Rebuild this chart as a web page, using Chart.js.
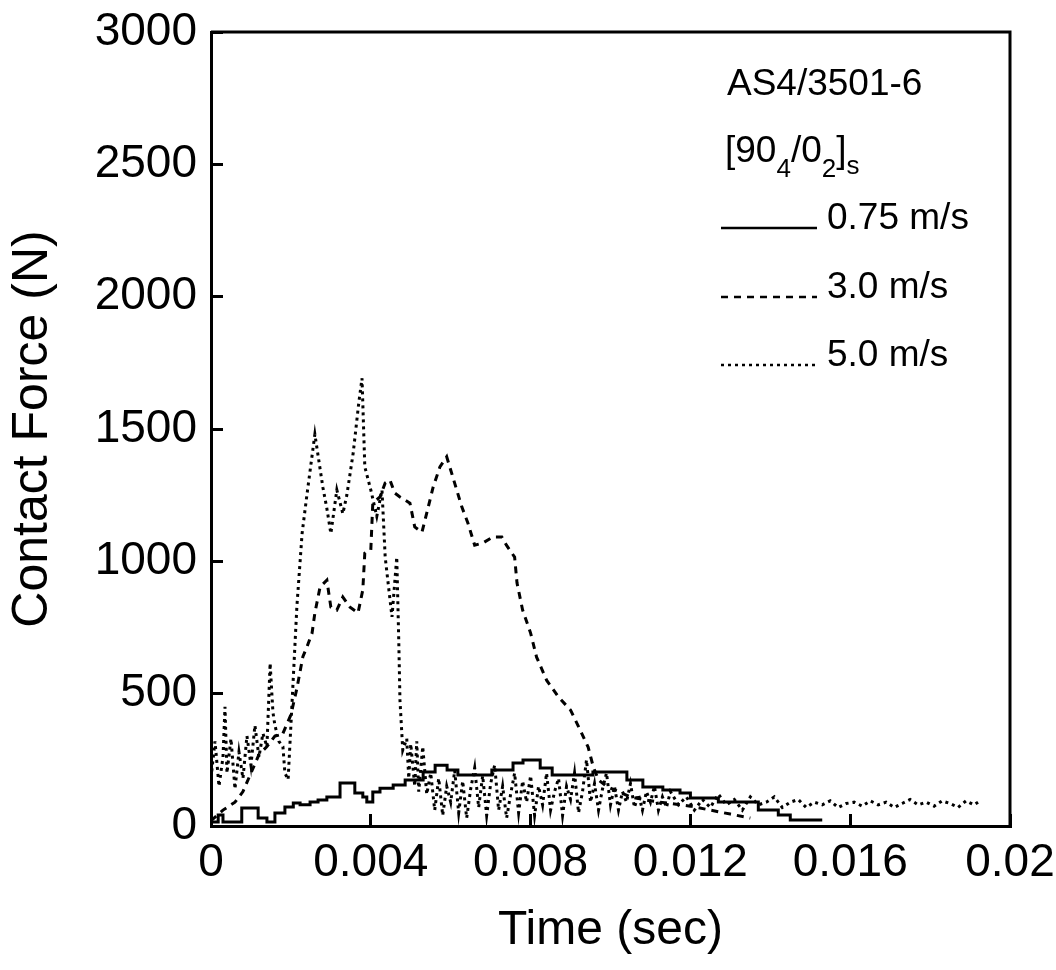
<!DOCTYPE html>
<html>
<head>
<meta charset="utf-8">
<script src="https://cdn.jsdelivr.net/npm/chart.js@4.4.1/dist/chart.umd.min.js"></script>
<style>
  html, body { margin: 0; padding: 0; background: #fff; }
  canvas { display: block; }
</style>
</head>
<body>
<canvas id="chart" width="1056" height="970"></canvas>
<script>
// 0.75 m/s (stepped trace)
const t075 = [0, 0.00018, 0.0003, 0.00077, 0.00118, 0.0014, 0.0016, 0.00185, 0.00206, 0.00223,
  0.00248, 0.00268, 0.0029, 0.00323, 0.0036, 0.0038, 0.0039, 0.00405, 0.00423, 0.00456,
  0.00486, 0.00531, 0.00561, 0.00591, 0.00618, 0.00703, 0.00756, 0.00781, 0.00824, 0.00854,
  0.00956, 0.01041, 0.01081, 0.01131, 0.01174, 0.012, 0.0127, 0.0137, 0.0142, 0.0145, 0.0153];
const f075 = [15, 42, 15, 68, 30, 15, 49, 72, 87, 80,
  91, 98, 110, 162, 125, 110, 91, 128, 143, 155,
  174, 204, 230, 212, 193, 212, 238, 249, 219, 193,
  204, 174, 147, 136, 125, 106, 91, 60, 42, 23, 23];

// 3.0 m/s
const t30 = [0, 0.0003, 0.0006, 0.0008, 0.001, 0.0012, 0.0014, 0.0016, 0.0018, 0.002,
  0.00215, 0.0023, 0.0024, 0.00253, 0.0026, 0.00273, 0.0029, 0.003, 0.00315, 0.0033,
  0.00348, 0.00368, 0.0038, 0.00385, 0.004, 0.00405, 0.00423, 0.00436, 0.00448, 0.0046,
  0.00473, 0.00498, 0.0051, 0.00528, 0.0054, 0.00556, 0.00573, 0.0059, 0.006, 0.00615,
  0.00628, 0.00643, 0.0066, 0.0068, 0.00706, 0.00728, 0.0074, 0.0076, 0.00766, 0.0078,
  0.008, 0.00815, 0.0084, 0.0087, 0.009, 0.00924, 0.00944, 0.00957, 0.0097, 0.0099,
  0.0102, 0.0105, 0.011, 0.0115, 0.012, 0.0125, 0.013, 0.0135];
const f30 = [20, 60, 90, 130, 200, 270, 300, 340, 350, 420,
  520, 640, 676, 729, 805, 903, 929, 827, 816, 865,
  827, 805, 892, 1031, 1043, 1220, 1243, 1296, 1307, 1258,
  1243, 1220, 1130, 1110, 1182, 1280, 1357, 1395, 1345, 1270,
  1205, 1145, 1061, 1069, 1092, 1092, 1060, 1016, 918, 816,
  729, 638, 551, 487, 438, 363, 298, 223, 174, 150,
  130, 110, 95, 85, 75, 60, 45, 30];

// 5.0 m/s
const t50 = [0, 0.0001, 0.0002, 0.0003, 0.00035, 0.0004, 0.0005, 0.0006, 0.0007, 0.0008,
  0.0009, 0.001, 0.0011, 0.0012, 0.0013, 0.0014, 0.00148, 0.00155, 0.0016, 0.0017,
  0.0018, 0.00185, 0.00193, 0.002, 0.00215, 0.00228, 0.0024, 0.0026, 0.0027, 0.0028,
  0.0029, 0.003, 0.00315, 0.0033, 0.0034, 0.00356, 0.0037, 0.00378, 0.00385, 0.004,
  0.00415, 0.00428, 0.00436, 0.00453, 0.00465, 0.0047, 0.00473, 0.0048, 0.0049, 0.00495,
  0.005, 0.0051, 0.00515, 0.0052, 0.0053, 0.0054, 0.0055, 0.0056, 0.0057, 0.0058,
  0.0059, 0.006, 0.0061, 0.0062, 0.0063, 0.0064, 0.0065, 0.0066, 0.0067, 0.0068,
  0.0069, 0.007, 0.0071, 0.0072, 0.0073, 0.0074, 0.0075, 0.0076, 0.0077, 0.0078,
  0.0079, 0.008, 0.0081, 0.0082, 0.0083, 0.0084, 0.0085, 0.0086, 0.0087, 0.0088,
  0.0089, 0.009, 0.0091, 0.0092, 0.0093, 0.0094, 0.0095, 0.0096, 0.0097, 0.0098,
  0.0099, 0.01, 0.0101, 0.0102, 0.0103, 0.0104, 0.0105, 0.0106, 0.0107, 0.0108,
  0.0109, 0.011, 0.0111, 0.0112, 0.0113, 0.0114, 0.0115, 0.0117, 0.0119, 0.0121,
  0.0123, 0.0125, 0.0127, 0.0129, 0.0131, 0.0133, 0.0135, 0.0137, 0.0139, 0.0141,
  0.0143, 0.0145, 0.0147, 0.0149, 0.0151, 0.0153, 0.0155, 0.0157, 0.0159, 0.0161,
  0.0163, 0.0165, 0.0167, 0.0169, 0.0171, 0.0173, 0.0175, 0.0177, 0.0179, 0.0181,
  0.0183, 0.0185, 0.0187, 0.0189, 0.0191, 0.0192];
const f50 = [180, 320, 150, 260, 450, 200, 330, 140, 280, 180,
  340, 230, 380, 260, 350, 300, 615, 430, 380, 320,
  300, 200, 175, 380, 830, 1105, 1250, 1480, 1380, 1280,
  1200, 1105, 1270, 1180, 1250, 1410, 1600, 1692, 1357, 1270,
  1170, 1270, 1016, 790, 1016, 700, 475, 287, 330, 180,
  310, 150, 320, 130, 300, 120, 200, 60, 180, 40,
  150, 90, 210, 50, 170, 30, 140, 220, 70, 190,
  40, 160, 230, 60, 150, 30, 120, 200, 50, 170,
  90, 190, 40, 150, 80, 200, 60, 130, 180, 40,
  150, 100, 200, 50, 130, 250, 90, 160, 60, 140,
  200, 80, 150, 60, 130, 90, 160, 70, 120, 60,
  130, 90, 150, 60, 110, 70, 130, 80, 110, 60,
  100, 70, 120, 80, 100, 60, 110, 80, 90, 110,
  70, 90, 100, 70, 90, 80, 95, 70, 85, 90,
  75, 95, 80, 90, 70, 85, 100, 80, 90, 75,
  95, 85, 70, 95, 80, 90];

const xTickVals = [0, 0.004, 0.008, 0.012, 0.016, 0.02];
const xTickLabels = ['0', '0.004', '0.008', '0.012', '0.016', '0.02'];
const yTickVals = [0, 500, 1000, 1500, 2000, 2500, 3000];
const yTickLabels = ['0', '500', '1000', '1500', '2000', '2500', '3000'];
const seriesNames = ['0.75 m/s', '3.0 m/s', '5.0 m/s'];
const noteLines = ['AS4/3501-6'];

const FONT = "'Liberation Sans', Arial, Helvetica, sans-serif";

function toPoints(ts, fs) {
  return ts.map((t, i) => ({ x: t, y: fs[i] }));
}

// box on top/right + annotation and legend drawn in the upper right
const framePlugin = {
  id: 'frame',
  afterDraw(chart) {
    const { ctx, chartArea: a } = chart;
    ctx.save();
    ctx.strokeStyle = '#000';
    ctx.lineWidth = 3;
    ctx.beginPath();
    ctx.moveTo(a.left, a.top);
    ctx.lineTo(a.right, a.top);
    ctx.lineTo(a.right, a.bottom);
    ctx.stroke();

    ctx.fillStyle = '#000';
    ctx.textBaseline = 'alphabetic';
    ctx.textAlign = 'left';
    ctx.font = '37px ' + FONT;
    ctx.fillText(noteLines[0], 727, 95);

    // [90_4/0_2]_s
    let x = 725;
    const base = 162, sub = 177;
    const parts = [['[90', base, 37], ['4', sub, 26], ['/0', base, 37], ['2', sub, 26], [']', base, 37], ['s', sub - 3, 26]];
    parts.forEach(([txt, y, size]) => {
      ctx.font = size + 'px ' + FONT;
      ctx.fillText(txt, x, y);
      x += ctx.measureText(txt).width;
    });

    const rows = [228, 297, 365];
    chart.data.datasets.forEach((ds, i) => {
      ctx.save();
      ctx.lineWidth = 2.5;
      ctx.setLineDash(ds.borderDash || []);
      ctx.beginPath();
      ctx.moveTo(721, rows[i]);
      ctx.lineTo(817, rows[i]);
      ctx.stroke();
      ctx.restore();
      ctx.font = '37px ' + FONT;
      ctx.fillText(ds.label, 827, rows[i] + 1);
    });
    ctx.restore();
  }
};

new Chart(document.getElementById('chart'), {
  type: 'line',
  data: {
    datasets: [
      {
        label: seriesNames[0],
        data: toPoints(t075, f075),
        borderColor: '#000',
        borderWidth: 3,
        stepped: true,
        pointRadius: 0,
        fill: false
      },
      {
        label: seriesNames[1],
        data: toPoints(t30, f30),
        borderColor: '#000',
        borderWidth: 3,
        borderDash: [7, 6],
        pointRadius: 0,
        fill: false
      },
      {
        label: seriesNames[2],
        data: toPoints(t50, f50),
        borderColor: '#000',
        borderWidth: 3,
        borderDash: [3, 4],
        pointRadius: 0,
        fill: false
      }
    ]
  },
  options: {
    responsive: false,
    animation: false,
    devicePixelRatio: 1,
    layout: { padding: { top: 32, right: 46, bottom: 0, left: 0 } },
    plugins: {
      legend: { display: false },
      tooltip: { enabled: false }
    },
    scales: {
      x: {
        type: 'linear',
        min: 0,
        max: 0.02,
        afterBuildTicks(scale) {
          scale.ticks = xTickVals.map(v => ({ value: v }));
        },
        afterFit(scale) {
          scale.height = 144;
          scale.paddingLeft = 0;
          scale.paddingRight = 0;
        },
        ticks: {
          color: '#000',
          font: { family: FONT, size: 46 },
          padding: 22,
          maxRotation: 0,
          autoSkip: false,
          callback: (v, i) => xTickLabels[i]
        },
        grid: {
          drawOnChartArea: false,
          drawTicks: true,
          tickLength: -12,
          tickWidth: 3,
          color: '#000'
        },
        border: { display: true, color: '#000', width: 3 },
        title: {
          display: true,
          text: 'Time (sec)',
          color: '#000',
          font: { family: FONT, size: 48 },
          padding: { top: 0, bottom: 10 }
        }
      },
      y: {
        min: 0,
        max: 3000,
        afterBuildTicks(scale) {
          scale.ticks = yTickVals.map(v => ({ value: v }));
        },
        afterFit(scale) {
          scale.width = 211;
          scale.paddingTop = 0;
          scale.paddingBottom = 0;
        },
        ticks: {
          color: '#000',
          font: { family: FONT, size: 46 },
          padding: 26,
          callback: (v, i) => yTickLabels[i]
        },
        grid: {
          drawOnChartArea: false,
          drawTicks: true,
          tickLength: -12,
          tickWidth: 3,
          color: '#000'
        },
        border: { display: true, color: '#000', width: 3 },
        title: {
          display: true,
          text: 'Contact Force (N)',
          color: '#000',
          font: { family: FONT, size: 50 },
          padding: { top: 3, bottom: 0 }
        }
      }
    }
  },
  plugins: [framePlugin]
});
</script>
</body>
</html>
